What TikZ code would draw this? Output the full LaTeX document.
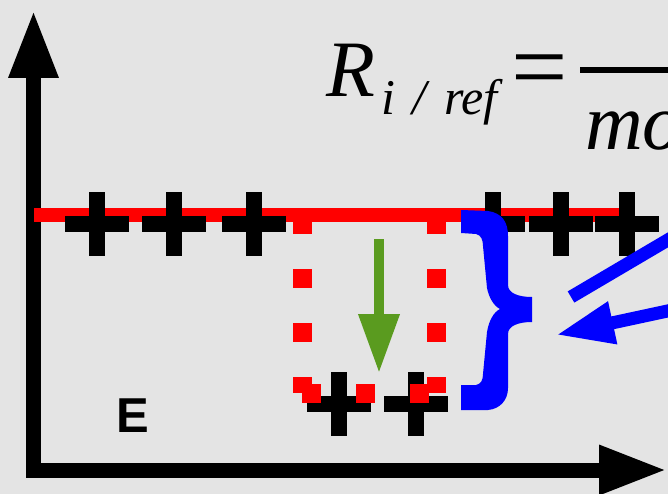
\documentclass[tikz,border=0pt]{standalone}
\usepackage{fontspec}
\setmainfont{Liberation Serif}
\newfontfamily\arialfont{Liberation Sans}
\usetikzlibrary{arrows.meta}
\definecolor{MarbleGray}{HTML}{E4E4E4}
\definecolor{IonRed}{HTML}{FF0000}
\definecolor{ShiftGreen}{HTML}{5A9B1F}
\definecolor{RangeBlue}{HTML}{0000FF}

\begin{document}
\begin{tikzpicture}[x=1pt, y=-1pt,
  ion/.style={minimum width=64pt, minimum height=64pt, inner sep=0pt, outer sep=0pt,
              path picture={
                \fill[black] ([yshift=-8pt]path picture bounding box.west)
                  rectangle ([yshift=8pt]path picture bounding box.east);
                \fill[black] ([xshift=-8pt]path picture bounding box.north)
                  rectangle ([xshift=8pt]path picture bounding box.south);}},
  axis/.style={line width=15pt, line join=miter, black,
               {Triangle[length=68pt,width=46pt]}-{Triangle[length=68pt,width=46pt]}},
  level/.style={line width=14pt, IonRed},
  reddots/.style={line width=19pt, IonRed, dash pattern=on 19pt off 35pt},
  garr/.style={line width=10pt, ShiftGreen, -{Triangle[length=59pt,width=39pt]}},
  barr/.style={line width=13pt, RangeBlue, -{Triangle[length=58pt,width=40pt]}},
  bline/.style={line width=13pt, RangeBlue},
  formula/.style={font=\fontsize{80}{80}\selectfont\itshape, inner sep=0pt, anchor=base west},
]

  % Canvas
  \useasboundingbox (0,0) rectangle (668,494);
  \clip (0,0) rectangle (668,494);
  \fill[MarbleGray] (0,0) rectangle (668,494);

  % Axes
  \coordinate (orig) at (33.5,470);
  \coordinate (ytip) at (33.5,10);
  \coordinate (xtip) at (667,470);
  \draw[axis] (ytip) -- (orig) -- (xtip);

  % Reference level
  \coordinate (lvl0) at (34,215);
  \coordinate (lvl1) at (635,215);
  \draw[level] (lvl0) -- (lvl1);

  % Ions
  \foreach \x [count=\i] in {97,174,254,493,561,627}
    \node[ion] (up\i) at (\x,224) {};
  \node[ion] (low1) at (339,404) {};
  \node[ion] (low2) at (416,404) {};

  % Dotted box
  \coordinate (dtl) at (302,215);
  \coordinate (dbl) at (302,393);
  \coordinate (dbr) at (436,393);
  \coordinate (dtr) at (436,215);
  \draw[reddots] (dtl) -- (dbl);
  \draw[reddots] (dtr) -- (dbr);
  \draw[reddots] (dbl) -- (dbr);

  % Shift
  \coordinate (gtop) at (379,239);
  \coordinate (gtip) at (379,373);
  \draw[garr] (gtop) -- (gtip);

  % Brace
  \fill[RangeBlue] (461,210) -- (488,211) .. controls (502,213) and (508,222) .. (508,236)
    -- (508,285) .. controls (508,293) and (518,297) .. (532,297)
    -- (532,322) .. controls (518,322) and (508,326) .. (508,334)
    -- (508,388) .. controls (508,400) and (500,409) .. (488,410)
    -- (461,410) -- (461,385) -- (476,385) .. controls (481,384) and (483,380) .. (483,374)
    -- (487,332) .. controls (489,320) and (494,312) .. (500,309)
    .. controls (494,306) and (489,298) .. (487,288)
    -- (483,246) .. controls (483,240) and (481,235) .. (476,234) -- (461,233) -- cycle;

  % Pointers
  \coordinate (b1out) at (700,221);
  \coordinate (b1in)  at (571,297);
  \coordinate (b2out) at (700,304);
  \coordinate (b2in)  at (556,335);
  \draw[bline] (b1out) -- (b1in);
  \draw[barr] (b2out) -- (b2in);

  % Formula
  \node[formula] (rsym) at (326,97) {R};
  \node[formula, font=\fontsize{50}{50}\selectfont\itshape] (rsub) at (381,115)
    {i\hspace{5pt} /\hspace{5pt} ref};
  \node[font=\fontsize{100}{100}\selectfont, inner sep=0pt, anchor=base] (eqs) at (540,101) {=};
  \coordinate (barL) at (580,70);
  \coordinate (barR) at (700,70);
  \draw[line width=6pt] (barL) -- (barR);
  \node[formula] (den) at (585,150) {mo};

  % Label
  \node[font=\fontsize{49}{49}\selectfont\arialfont\bfseries, inner sep=0pt, anchor=base west] (elab) at (116,432) {E};

\end{tikzpicture}
\end{document}
